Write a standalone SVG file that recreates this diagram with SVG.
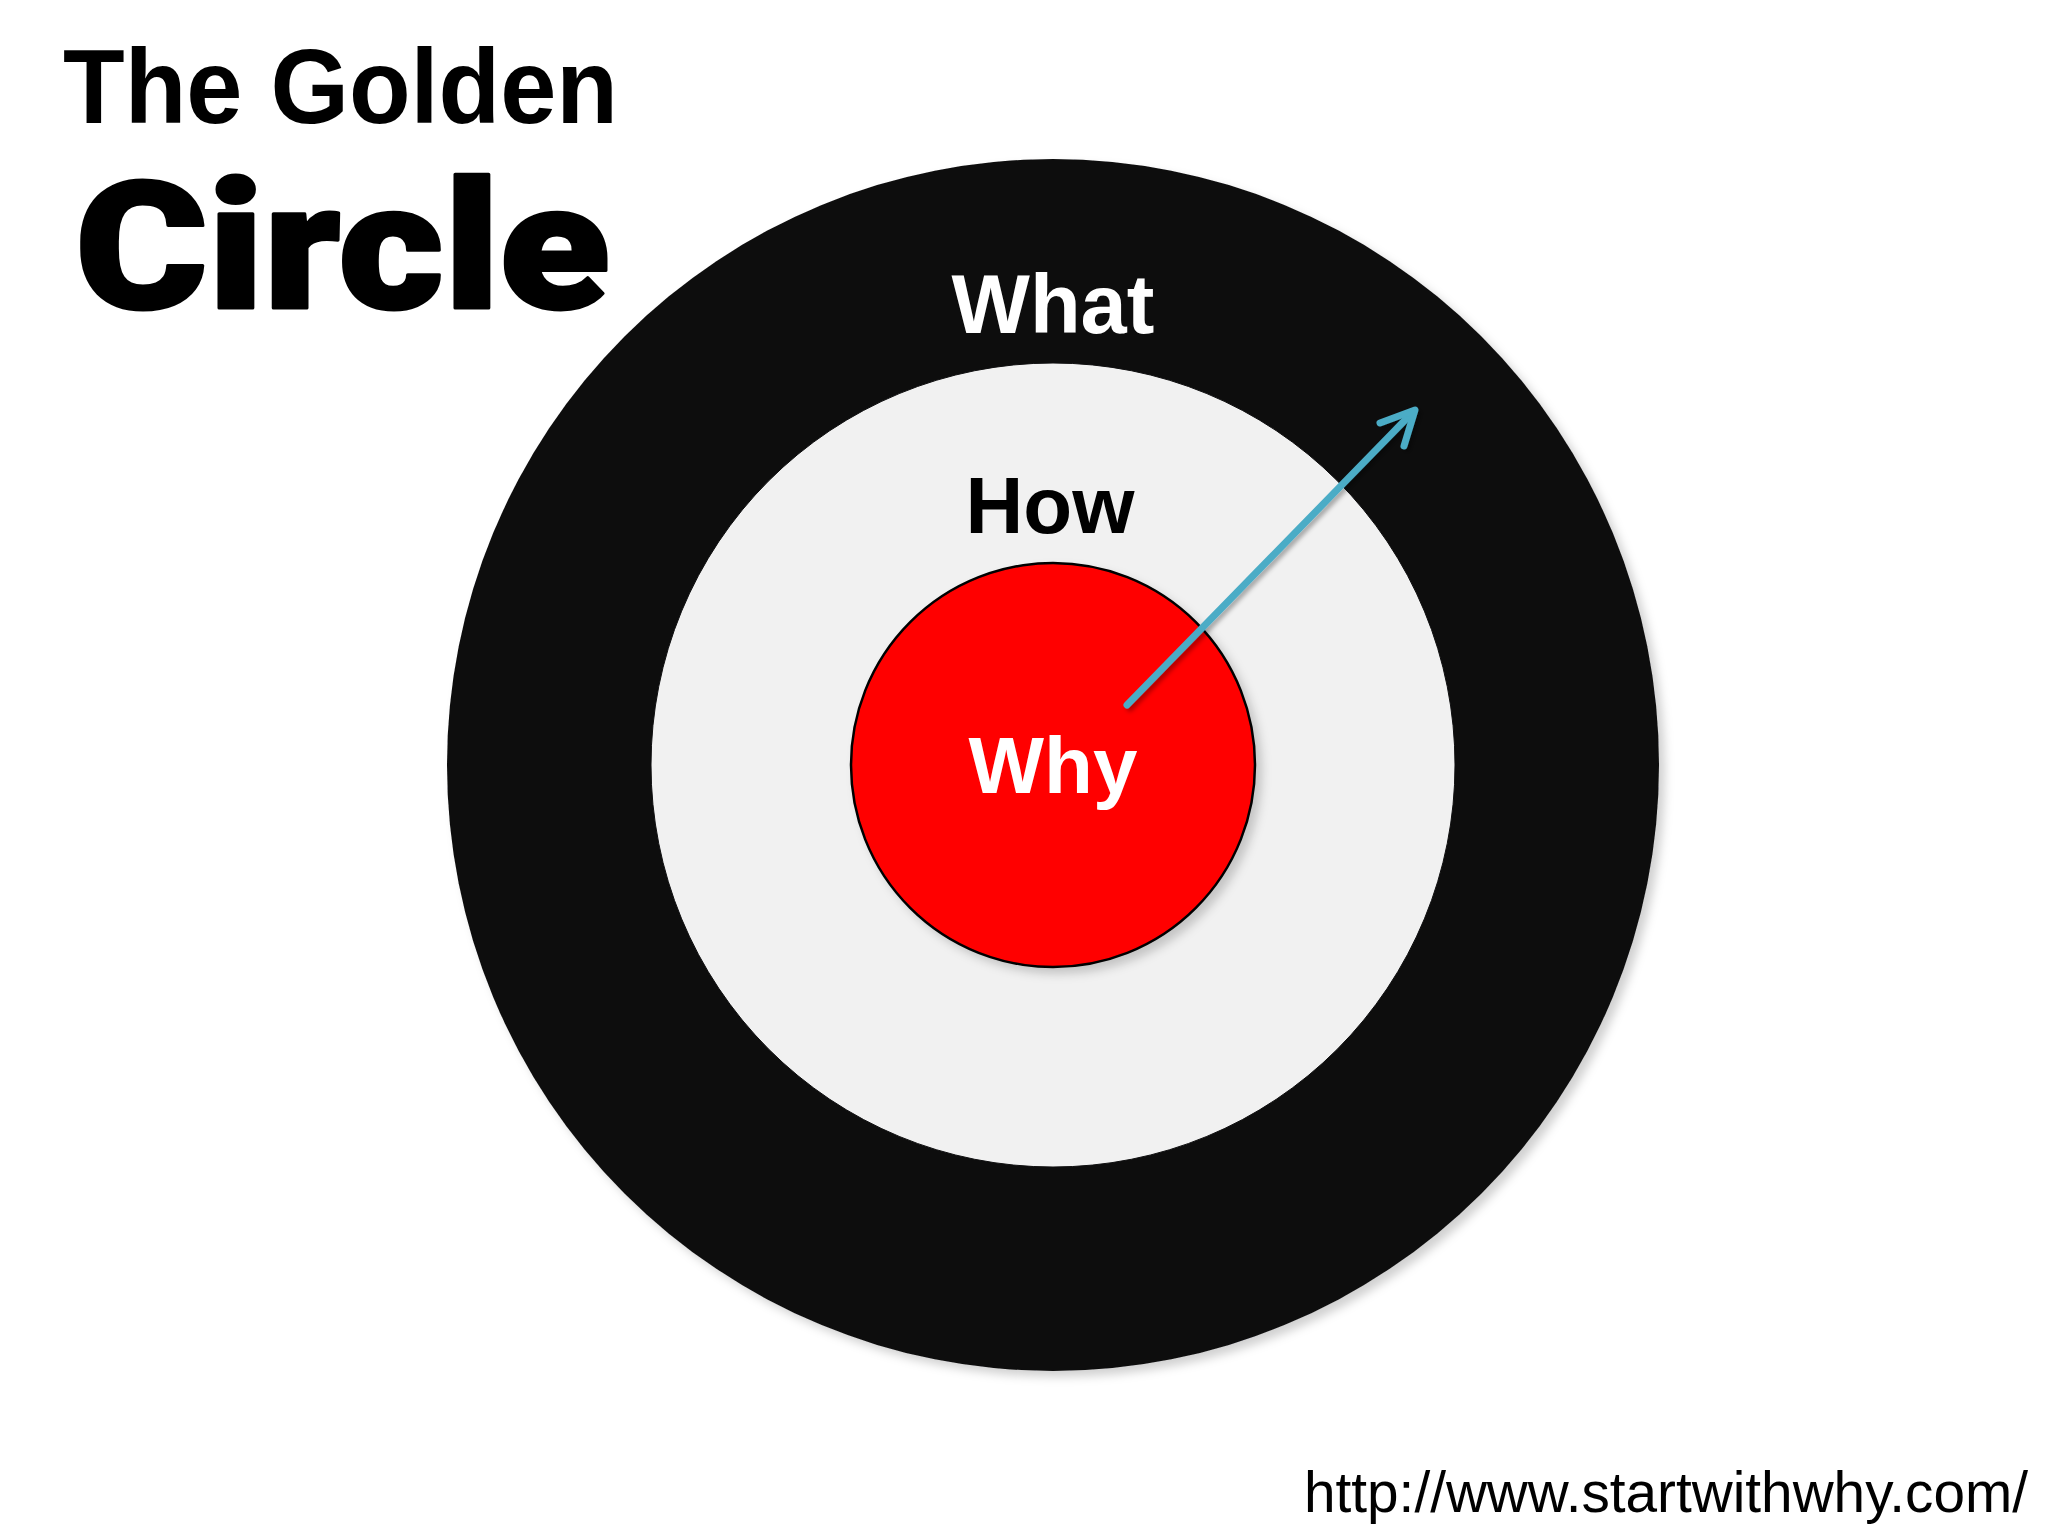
<svg xmlns="http://www.w3.org/2000/svg" width="2048" height="1536" viewBox="0 0 2048 1536">
  <defs>
    <filter id="shadow" x="-10%" y="-10%" width="125%" height="125%">
      <feDropShadow dx="6" dy="6" stdDeviation="5" flood-color="#000" flood-opacity="0.18"/>
    </filter>
    <filter id="ashadow" x="-10%" y="-10%" width="130%" height="130%">
      <feDropShadow dx="3" dy="3" stdDeviation="2" flood-color="#000" flood-opacity="0.3"/>
    </filter>
  </defs>
  <style>
    .lbl { font-family: "Liberation Sans", Arial, sans-serif; font-weight: bold; text-anchor: middle; }
    .conn { fill: none; stroke: #4bacc6; stroke-width: 7; stroke-linecap: round; stroke-linejoin: round; }
  </style>
  <rect width="2048" height="1536" fill="#ffffff"/>

  <g id="title">
    <text x="63" y="123" font-family="'Liberation Sans', Arial, sans-serif" font-weight="bold" font-size="106" textLength="555" lengthAdjust="spacingAndGlyphs" fill="#000">The Golden</text>
    <text x="75" y="308" font-family="Roboto, 'Liberation Sans', Arial, sans-serif" font-weight="900" font-size="178" textLength="535" lengthAdjust="spacingAndGlyphs" fill="#000" stroke="#000" stroke-width="3" stroke-linejoin="round">Circle</text>
  </g>

  <g id="what">
    <circle cx="1053" cy="765" r="606" fill="#0f0f10" filter="url(#shadow)"/>
    <text class="lbl" x="1053" y="333" font-size="83" fill="#ffffff">What</text>
  </g>

  <g id="how">
    <circle cx="1053" cy="765" r="402" fill="#f1f1f1" stroke="#0f0f10" stroke-width="1"/>
    <text class="lbl" x="1050" y="533" font-size="80" fill="#000000">How</text>
  </g>

  <g id="why">
    <circle cx="1053" cy="765" r="202" fill="#ff0000" stroke="#000" stroke-width="2.5" filter="url(#shadow)"/>
    <text class="lbl" x="1053" y="793" font-size="80" fill="#ffffff">Why</text>
  </g>

  <g id="connectors" filter="url(#ashadow)">
    <line class="conn" x1="1127" y1="705" x2="1413" y2="412"/>
    <polyline class="conn" points="1380,423 1415,410 1404,446"/>
  </g>

  <g id="url">
    <text x="1304" y="1512" font-family="'Liberation Sans', Arial, sans-serif" font-size="57" textLength="724" lengthAdjust="spacingAndGlyphs" fill="#000">http://www.startwithwhy.com/</text>
  </g>
</svg>
